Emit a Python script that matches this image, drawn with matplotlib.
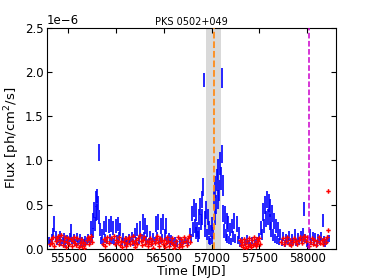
import matplotlib
matplotlib.use("Agg")
import matplotlib.pyplot as plt
import numpy as np

title = "PKS 0502+049"
xlabel = "Time [MJD]"
ylabel = "Flux [ph/cm$^2$/s]"

# Blue light curve (flux in units of 1e-6 ph/cm2/s)
blue_mjd = [55300, 55315, 55330, 55345, 55358, 55372, 55386, 55400, 55414, 55428, 55442, 55456, 55470, 55484,
            55500, 55515, 55530, 55545, 55560, 55575, 55590, 55605, 55620, 55635, 55650, 55665, 55680, 55695,
            55710, 55725, 55738, 55748, 55756, 55764, 55772, 55780, 55788, 55794, 55800, 55806, 55812, 55820,
            55828, 55836, 55845, 55855, 55865, 55878, 55890, 55900, 55912, 55924, 55936, 55948, 55960, 55972,
            55985, 55998, 56010, 56022, 56034, 56046, 56060, 56075, 56090, 56105, 56120, 56135, 56150, 56165,
            56180, 56195, 56210, 56225, 56240, 56255, 56268, 56280, 56292, 56305, 56318, 56330, 56345, 56360,
            56375, 56390, 56405, 56420, 56432, 56444, 56456, 56468, 56480, 56495, 56508, 56520, 56535, 56550,
            56565, 56580, 56600, 56620, 56640, 56665, 56690, 56720, 56750, 56775, 56790, 56800, 56808, 56816,
            56824, 56832, 56840, 56848, 56856, 56864, 56872, 56880, 56888, 56896, 56904, 56912, 56920, 56928,
            56936, 56944, 56952, 56960, 56968, 56976, 56984, 56992, 57000, 57008, 57016, 57024, 57032, 57040,
            57048, 57056, 57064, 57072, 57080, 57088, 57096, 57104, 57109, 57116, 57124, 57132, 57140, 57148,
            57156, 57164, 57172, 57180, 57190, 57200, 57212, 57225, 57238, 57250, 57262, 57274, 57286, 57298,
            57320, 57345, 57370, 57395, 57420, 57450, 57475, 57500, 57515, 57528, 57540, 57550, 57560, 57570,
            57580, 57590, 57598, 57606, 57614, 57622, 57630, 57640, 57650, 57660, 57670, 57680, 57692, 57705,
            57720, 57735, 57750, 57765, 57780, 57795, 57810, 57825, 57840, 57855, 57870, 57885, 57900, 57915,
            57930, 57945, 57958, 57968, 57980, 57995, 58010, 58025, 58040, 58055, 58070, 58085, 58100, 58115,
            58130, 58145, 58160, 58175, 58190, 58205, 58225]
blue_flux = [0.10, 0.06, 0.12, 0.18, 0.28, 0.14, 0.08, 0.11, 0.15, 0.07, 0.10, 0.13, 0.06, 0.11,
             0.08, 0.13, 0.21, 0.09, 0.12, 0.07, 0.13, 0.08, 0.12, 0.06, 0.10, 0.07, 0.11, 0.08,
             0.12, 0.08, 0.24, 0.12, 0.32, 0.18, 0.44, 0.28, 0.56, 0.40, 0.60, 0.42, 0.52, 1.09,
             0.36, 0.22, 0.10, 0.16, 0.07, 0.24, 0.12, 0.28, 0.09, 0.26, 0.12, 0.28, 0.10, 0.24,
             0.08, 0.26, 0.11, 0.28, 0.14, 0.22, 0.08, 0.13, 0.07, 0.11, 0.06, 0.12, 0.08, 0.14,
             0.07, 0.18, 0.09, 0.22, 0.10, 0.24, 0.12, 0.30, 0.14, 0.26, 0.10, 0.20, 0.08, 0.15,
             0.07, 0.13, 0.09, 0.28, 0.14, 0.30, 0.10, 0.26, 0.12, 0.30, 0.16, 0.26, 0.08, 0.13,
             0.06, 0.11, 0.07, 0.10, 0.06, 0.09, 0.07, 0.10, 0.08, 0.18, 0.12, 0.40, 0.22, 0.46,
             0.26, 0.18, 0.42, 0.22, 0.14, 0.36, 0.18, 0.48, 0.30, 0.56, 0.36, 0.70, 1.91, 0.34,
             0.20, 0.44, 0.16, 0.36, 0.10, 0.24, 0.08, 0.20, 0.10, 0.28, 0.18, 0.55, 0.36, 0.70,
             0.50, 0.78, 0.56, 0.90, 0.66, 0.96, 0.80, 1.07, 1.93, 0.72, 0.40, 0.20, 0.38, 0.16,
             0.32, 0.12, 0.28, 0.10, 0.22, 0.08, 0.26, 0.14, 0.32, 0.12, 0.28, 0.10, 0.18, 0.06,
             0.10, 0.07, 0.11, 0.06, 0.09, 0.07, 0.10, 0.13, 0.24, 0.16, 0.42, 0.26, 0.50, 0.34,
             0.56, 0.36, 0.52, 0.30, 0.46, 0.22, 0.40, 0.16, 0.32, 0.12, 0.26, 0.10, 0.22, 0.08,
             0.16, 0.07, 0.14, 0.06, 0.12, 0.08, 0.15, 0.06, 0.12, 0.08, 0.16, 0.07, 0.13, 0.08,
             0.15, 0.09, 0.18, 0.45, 0.12, 0.06, 0.04, 0.16, 0.08, 0.14, 0.07, 0.13, 0.06, 0.12,
             0.08, 0.14, 0.32, 0.10, 0.06, 0.10, 0.12]
blue_err = [0.04, 0.04, 0.05, 0.06, 0.09, 0.06, 0.04, 0.04, 0.05, 0.04, 0.04, 0.05, 0.04, 0.05,
            0.04, 0.05, 0.07, 0.04, 0.05, 0.04, 0.05, 0.04, 0.05, 0.04, 0.04, 0.04, 0.04, 0.04,
            0.05, 0.04, 0.08, 0.05, 0.09, 0.06, 0.09, 0.08, 0.09, 0.08, 0.08, 0.09, 0.08, 0.10,
            0.08, 0.07, 0.04, 0.06, 0.04, 0.08, 0.05, 0.09, 0.04, 0.08, 0.05, 0.09, 0.04, 0.08,
            0.04, 0.08, 0.05, 0.08, 0.05, 0.07, 0.04, 0.05, 0.04, 0.04, 0.04, 0.05, 0.04, 0.05,
            0.04, 0.06, 0.04, 0.07, 0.05, 0.08, 0.05, 0.09, 0.05, 0.09, 0.05, 0.07, 0.04, 0.05,
            0.04, 0.05, 0.04, 0.09, 0.05, 0.09, 0.04, 0.09, 0.05, 0.09, 0.06, 0.09, 0.04, 0.05,
            0.04, 0.05, 0.04, 0.04, 0.04, 0.04, 0.04, 0.04, 0.04, 0.06, 0.05, 0.09, 0.08, 0.10,
            0.08, 0.07, 0.10, 0.08, 0.06, 0.09, 0.07, 0.10, 0.09, 0.10, 0.09, 0.10, 0.08, 0.09,
            0.07, 0.10, 0.06, 0.09, 0.05, 0.08, 0.04, 0.07, 0.05, 0.08, 0.07, 0.10, 0.09, 0.12,
            0.11, 0.12, 0.11, 0.12, 0.12, 0.13, 0.13, 0.10, 0.11, 0.12, 0.10, 0.08, 0.10, 0.07,
            0.09, 0.05, 0.09, 0.05, 0.07, 0.04, 0.08, 0.06, 0.09, 0.05, 0.09, 0.05, 0.07, 0.04,
            0.04, 0.04, 0.05, 0.04, 0.04, 0.04, 0.04, 0.05, 0.08, 0.06, 0.10, 0.08, 0.10, 0.09,
            0.10, 0.09, 0.10, 0.09, 0.10, 0.08, 0.10, 0.07, 0.09, 0.05, 0.08, 0.05, 0.08, 0.04,
            0.06, 0.04, 0.05, 0.04, 0.05, 0.04, 0.05, 0.04, 0.05, 0.04, 0.06, 0.04, 0.05, 0.04,
            0.05, 0.04, 0.06, 0.08, 0.05, 0.04, 0.03, 0.06, 0.04, 0.05, 0.04, 0.05, 0.04, 0.05,
            0.04, 0.05, 0.07, 0.05, 0.04, 0.04, 0.04]

# Red points (flux in units of 1e-6 ph/cm2/s)
red_mjd = [55310, 55322, 55334, 55346, 55358, 55370, 55382, 55394, 55406, 55418, 55430, 55442, 55454, 55466,
           55478, 55490, 55502, 55514, 55526, 55538, 55550, 55562, 55574, 55586, 55598, 55610, 55622, 55634,
           55646, 55658, 55670, 55682, 55694, 55706, 55718, 55730, 55742, 55754,
           55860, 55872, 55884, 55896, 55908, 55930, 55950, 55975, 55990, 56005,
           56020, 56032, 56044, 56056, 56068, 56080, 56092, 56104, 56116, 56128, 56140, 56152, 56164, 56176,
           56188, 56200, 56212, 56224, 56236, 56248, 56260, 56272, 56284, 56296, 56308, 56320, 56332, 56344,
           56356, 56368, 56380, 56392, 56404, 56416, 56428, 56440, 56452, 56464, 56476, 56488, 56500, 56512,
           56524, 56536, 56548, 56560, 56572, 56584, 56596, 56608, 56620, 56632, 56644, 56656, 56668, 56680,
           56692, 56704, 56716, 56728, 56740, 56752, 56764, 56776,
           57300, 57310, 57320, 57330, 57340, 57350, 57360, 57370, 57380, 57390, 57400, 57410, 57420, 57430,
           57440, 57450, 57460, 57470, 57480, 57490, 57500, 57510,
           57730, 57745, 57760, 57775, 57790, 57805, 57820, 57835, 57850, 57865, 57880, 57895, 57910, 57925,
           57940, 57955, 57970, 57985, 58000, 58015, 58030, 58045, 58060, 58075, 58090, 58105, 58120, 58135,
           58150, 58165, 58180, 58195, 58210, 58219, 58221]
red_flux = [0.06, 0.11, 0.07, 0.13, 0.03, 0.09, 0.12, 0.15, 0.05, 0.10, 0.16, 0.04, 0.09, 0.13,
            0.02, 0.08, 0.12, 0.05, 0.11, 0.03, 0.09, 0.14, 0.07, 0.04, 0.12, 0.02, 0.07, 0.11,
            0.03, 0.08, 0.01, 0.05, 0.10, 0.13, 0.06, 0.11, 0.15, 0.08,
            0.05, 0.11, 0.03, 0.09, 0.13, 0.07, 0.12, 0.15, 0.06, 0.10,
            0.08, 0.13, 0.04, 0.09, 0.02, 0.08, 0.12, 0.03, 0.07, 0.11, 0.14, 0.05, 0.09, 0.15,
            0.07, 0.02, 0.10, 0.06, 0.12, 0.16, 0.09, 0.04, 0.10, 0.13, 0.06, 0.09, 0.03, 0.08,
            0.12, 0.05, 0.09, 0.01, 0.07, 0.11, 0.15, 0.08, 0.03, 0.12, 0.09, 0.05, 0.10, 0.02,
            0.07, 0.13, 0.09, 0.03, 0.08, 0.12, 0.05, 0.01, 0.04, 0.09, 0.13, 0.02, 0.06, 0.11,
            0.03, 0.08, 0.13, 0.09, 0.04, 0.12, 0.15, 0.08,
            0.10, 0.04, 0.08, 0.02, 0.11, 0.05, 0.01, 0.09, 0.03, 0.12, 0.06, 0.02, 0.10, 0.04,
            0.13, 0.07, 0.03, 0.11, 0.05, 0.09, 0.12, 0.06,
            0.08, 0.12, 0.05, 0.09, 0.13, 0.06, 0.10, 0.04, 0.08, 0.12, 0.09, 0.05, 0.10, 0.14,
            0.07, 0.11, 0.15, 0.09, 0.13, 0.03, 0.08, 0.12, 0.06, 0.10, 0.04, 0.09, 0.13, 0.07,
            0.10, 0.05, 0.11, 0.08, 0.14, 0.66, 0.21]
red_err = 0.02

shade_span = (56945, 57101)
orange_line = 57021
magenta_line = 58018

scale = 1e-6

fig = plt.figure(figsize=(3.74, 2.80), dpi=100)
ax = fig.add_axes([0.126, 0.111, 0.772, 0.790])

ax.axvspan(shade_span[0], shade_span[1], color="#d9d9d9", zorder=0, lw=0)
ax.errorbar(blue_mjd, np.array(blue_flux) * scale, yerr=np.array(blue_err) * scale,
            fmt="none", ecolor="blue", elinewidth=1.2, zorder=2)
ax.errorbar(red_mjd, np.array(red_flux) * scale, yerr=red_err * scale,
            fmt="P", color="red", ms=3.2, mew=0, elinewidth=0.8, zorder=3)
ax.axvline(orange_line, color="#ff8c1a", ls="--", lw=1.3, zorder=4)
ax.axvline(magenta_line, color="#cc00cc", ls="--", lw=1.1, zorder=4)

ax.set_xlim(55281, 58299)
ax.set_ylim(0, 2.5e-6)
ax.set_xticks([55500, 56000, 56500, 57000, 57500, 58000])
ax.set_yticks([0, 0.5e-6, 1.0e-6, 1.5e-6, 2.0e-6, 2.5e-6])
ax.tick_params(direction="in", top=True, right=True, labelsize=8.5, length=3.5, width=0.8, pad=2.5)
ax.yaxis.get_offset_text().set_fontsize(8.5)
ax.set_xlabel(xlabel, fontsize=9, labelpad=0)
ax.set_ylabel(ylabel, fontsize=9.5, labelpad=2)
ax.set_title(title, fontsize=7, pad=2)
for s in ax.spines.values():
    s.set_linewidth(0.8)

fig.savefig("out.png", dpi=100)
